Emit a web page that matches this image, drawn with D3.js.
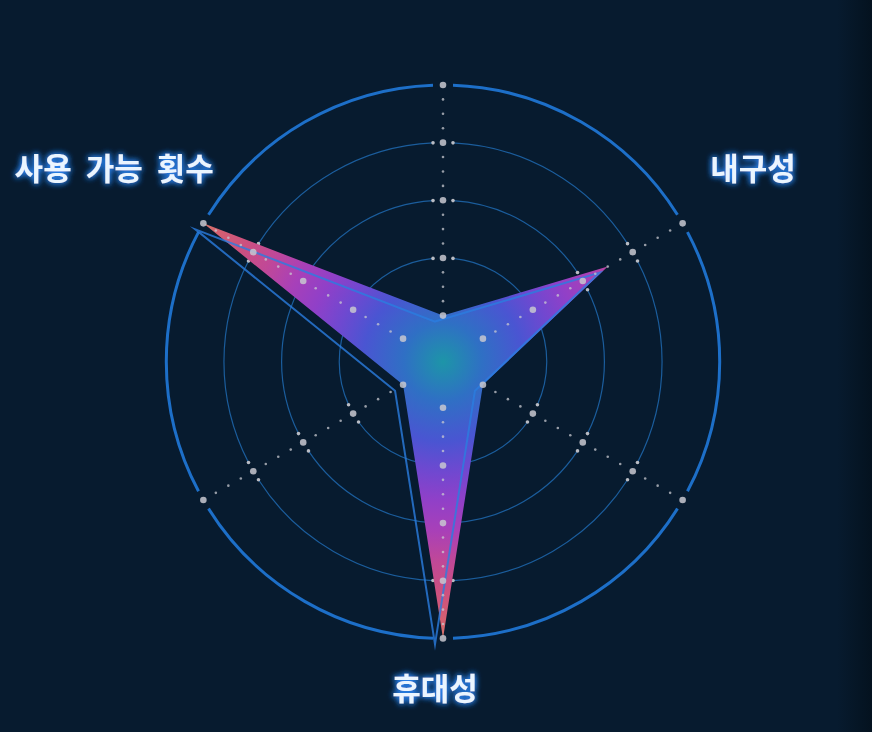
<!DOCTYPE html>
<html>
<head>
<meta charset="utf-8">
<script src="https://cdn.jsdelivr.net/npm/d3@7"></script>
<style>
  html, body { margin: 0; padding: 0; background: #071b2f; overflow: hidden; }
  #radar { width: 872px; height: 732px; }
</style>
</head>
<body>
<div id="radar"></div>
<script>
// Indicators clockwise from the top (blank names have no label)
var indicators = ["", "내구성", "", "휴대성", "", "사용 가능 횟수"];
var values = [20, 70, 20, 100, 20, 100];
var ringLevels = [20, 40, 60, 80, 100];
var minorStep = 5;

// SVG dimensions
var svgWidth = 872;
var svgHeight = 732;
var center = { x: 443, y: 361.7 };
var radius = 276.7;

var svg = d3.select("#radar")
  .append("svg")
  .attr("width", svgWidth)
  .attr("height", svgHeight);

var defs = svg.append("defs");

// background with a darker right edge
var bg = defs.append("linearGradient").attr("id", "bg").attr("x1", 0).attr("x2", 1).attr("y1", 0).attr("y2", 0);
bg.append("stop").attr("offset", "0.96").attr("stop-color", "#071b2f");
bg.append("stop").attr("offset", "1").attr("stop-color", "#04121f");
svg.append("rect").attr("width", svgWidth).attr("height", svgHeight).attr("fill", "url(#bg)");

// radial colour ramp for the area
var grad = defs.append("radialGradient")
  .attr("id", "areaFill")
  .attr("gradientUnits", "userSpaceOnUse")
  .attr("cx", 0).attr("cy", 0).attr("r", radius);
[[0, "#1d95a8"], [0.14, "#2f70c4"], [0.29, "#4a55d2"], [0.4, "#7048d0"],
 [0.5, "#9040c8"], [0.61, "#a840b8"], [0.72, "#c04898"], [0.83, "#cc5080"],
 [0.94, "#d46070"], [1, "#d87868"]].forEach(function(s) {
  grad.append("stop").attr("offset", s[0]).attr("stop-color", s[1]);
});

// glow for the labels
var glow = defs.append("filter").attr("id", "glow").attr("x", "-20%").attr("y", "-50%").attr("width", "140%").attr("height", "200%");
glow.append("feGaussianBlur").attr("in", "SourceAlpha").attr("stdDeviation", 3).attr("result", "blur");
glow.append("feFlood").attr("flood-color", "#2f8cff").attr("flood-opacity", 0.95);
glow.append("feComposite").attr("in2", "blur").attr("operator", "in").attr("result", "halo");
var merge = glow.append("feMerge");
merge.append("feMergeNode").attr("in", "halo");
merge.append("feMergeNode").attr("in", "halo");
merge.append("feMergeNode").attr("in", "SourceGraphic");

var chartGroup = svg.append("g")
  .attr("transform", `translate(${center.x}, ${center.y})`);

// scales: angle per indicator, radius per value
var angle = d3.scalePoint()
  .domain(d3.range(indicators.length))
  .range([0, 2 * Math.PI * (indicators.length - 1) / indicators.length]);

var rScale = d3.scaleLinear()
  .domain([4, 100])
  .range([0, radius]);

function pt(i, v) {
  var a = angle(i), r = rScale(v);
  return [Math.sin(a) * r, -Math.cos(a) * r];
}

// rings, broken where each axis crosses them
var gapPx = 10;
ringLevels.forEach(function(level, k) {
  var r = rScale(level);
  var outer = k === ringLevels.length - 1;
  var gap = gapPx / r;
  indicators.forEach(function(name, i) {
    var a0 = angle(i) + gap;
    var a1 = angle(i) + 2 * Math.PI / indicators.length - gap;
    chartGroup.append("path")
      .attr("d", d3.arc()({ innerRadius: r, outerRadius: r, startAngle: a0, endAngle: a1 }))
      .attr("fill", "none")
      .attr("stroke", outer ? "#1d6fc8" : "#1b5d9c")
      .attr("stroke-width", outer ? 3 : 1.2);
    if (!outer) {
      [a0, a1].forEach(function(a) {
        chartGroup.append("circle")
          .attr("cx", Math.sin(a) * r)
          .attr("cy", -Math.cos(a) * r)
          .attr("r", 1.8)
          .attr("fill", "#b9bcc4");
      });
    }
  });
});

// the data polygon
var radial = d3.lineRadial()
  .angle(function(d, i) { return angle(i); })
  .radius(function(d) { return rScale(d); })
  .curve(d3.curveLinearClosed);

chartGroup.append("path")
  .attr("d", radial(values))
  .attr("fill", "url(#areaFill)");

// offset outline (shadow of the area line)
chartGroup.append("path")
  .attr("d", radial(values))
  .attr("transform", "translate(-8, 6)")
  .attr("fill", "none")
  .attr("stroke", "#2a7de0")
  .attr("stroke-opacity", 0.8)
  .attr("stroke-width", 2)
  .attr("stroke-linejoin", "miter")
  .attr("stroke-miterlimit", 12);

// dotted axes: big dots on rings, small dots between
var minorLevels = d3.range(ringLevels[0], ringLevels[ringLevels.length - 1], minorStep)
  .filter(function(v) { return ringLevels.indexOf(v) < 0; });

indicators.forEach(function(name, i) {
  minorLevels.forEach(function(v) {
    var p = pt(i, v);
    chartGroup.append("circle")
      .attr("cx", p[0]).attr("cy", p[1])
      .attr("r", 1.3)
      .attr("fill", "#c8cad0")
      .attr("fill-opacity", 0.75);
  });
  ringLevels.forEach(function(v) {
    var p = pt(i, v);
    chartGroup.append("circle")
      .attr("cx", p[0]).attr("cy", p[1])
      .attr("r", 3.3)
      .attr("fill", "#c8c8d0")
      .attr("fill-opacity", 0.85);
  });
});

// indicator names
var labelGap = 48;
var labelShift = { start: [-14, -33], end: [52, -33], middle: [-8, 0] };
indicators.forEach(function(name, i) {
  if (!name) return;
  var p = pt(i, rScale.invert(radius + labelGap));
  var anchor = Math.abs(p[0]) < 1 ? "middle" : (p[0] > 0 ? "start" : "end");
  chartGroup.append("text")
    .attr("x", p[0] + labelShift[anchor][0])
    .attr("y", p[1] + labelShift[anchor][1])
    .attr("text-anchor", anchor)
    .attr("dominant-baseline", "central")
    .attr("font-family", "'Noto Sans CJK KR', 'Noto Sans', sans-serif")
    .attr("font-weight", "bold")
    .attr("font-size", 31)
    .attr("word-spacing", 7)
    .attr("fill", "#eaf5ff")
    .attr("filter", "url(#glow)")
    .text(name);
});
</script>
</body>
</html>
